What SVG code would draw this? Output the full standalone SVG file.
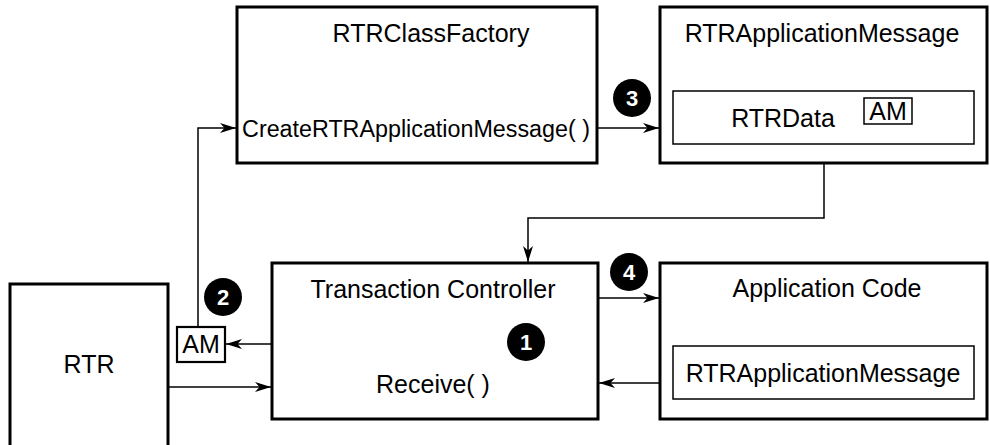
<svg xmlns="http://www.w3.org/2000/svg" width="990" height="445" viewBox="0 0 990 445">
  <style>
    .box { fill: #fff; stroke: #000; stroke-width: 3; }
    .inner { fill: #fff; stroke: #000; stroke-width: 1.5; }
    .txt { font-family: "Liberation Sans", Arial, sans-serif; font-size: 25px; fill: #000; text-anchor: middle; }
    .small { font-size: 23.3px; }
    .num { font-family: "Liberation Sans", Arial, sans-serif; font-size: 22px; font-weight: bold; fill: #fff; text-anchor: middle; }
    .conn { fill: none; stroke: #000; stroke-width: 1.5; }
  </style>
  <defs>
    <marker id="arrow" markerUnits="userSpaceOnUse" markerWidth="17" markerHeight="11" refX="16" refY="5.5" orient="auto">
      <path d="M0,0.5 L16,5.5 L0,10.5 L4.5,5.5 z" fill="#000"/>
    </marker>
  </defs>

  <g id="connectors">
    <path class="conn" d="M198,327 V128 H236" marker-end="url(#arrow)"/>
    <path class="conn" d="M272,344 H226" marker-end="url(#arrow)"/>
    <path class="conn" d="M168,387 H271" marker-end="url(#arrow)"/>
    <path class="conn" d="M597,128 H659" marker-end="url(#arrow)"/>
    <path class="conn" d="M824,163 V218 H528 V262" marker-end="url(#arrow)"/>
    <path class="conn" d="M598,298 H659" marker-end="url(#arrow)"/>
    <path class="conn" d="M660,383 H599" marker-end="url(#arrow)"/>
  </g>

  <g id="rtr-class-factory">
    <rect class="box" x="237" y="7" width="360" height="156"/>
    <text class="txt" x="431" y="42">RTRClassFactory</text>
    <text class="txt small" x="416" y="137">CreateRTRApplicationMessage( )</text>
  </g>

  <g id="rtr-application-message">
    <rect class="box" x="660" y="7" width="327" height="156"/>
    <text class="txt" x="822" y="42">RTRApplicationMessage</text>
    <rect class="inner" x="673" y="91" width="301" height="53"/>
    <text class="txt" x="783" y="127">RTRData</text>
    <rect class="inner" x="864" y="98" width="48" height="26"/>
    <text class="txt" x="888" y="120">AM</text>
  </g>

  <g id="rtr">
    <path class="box" d="M10,450 V284 H168 V450"/>
    <text class="txt" x="89" y="373">RTR</text>
  </g>

  <g id="am-left">
    <rect class="box" style="stroke-width:2.2" x="177" y="327" width="48" height="35"/>
    <text class="txt" x="201" y="353">AM</text>
  </g>

  <g id="transaction-controller">
    <rect class="box" x="272" y="263" width="326" height="156"/>
    <text class="txt" x="433" y="298">Transaction Controller</text>
    <text class="txt" x="433" y="393">Receive( )</text>
  </g>

  <g id="application-code">
    <rect class="box" x="660" y="263" width="327" height="156"/>
    <text class="txt" x="827" y="297">Application Code</text>
    <rect class="inner" x="673" y="346" width="301" height="53"/>
    <text class="txt" x="823" y="382">RTRApplicationMessage</text>
  </g>

  <g id="step-1">
    <circle cx="526" cy="342" r="19" fill="#000"/>
    <text class="num" x="526" y="350">1</text>
  </g>
  <g id="step-2">
    <circle cx="223" cy="297" r="19" fill="#000"/>
    <text class="num" x="223" y="305">2</text>
  </g>
  <g id="step-3">
    <circle cx="632" cy="98" r="19" fill="#000"/>
    <text class="num" x="632" y="106">3</text>
  </g>
  <g id="step-4">
    <circle cx="629" cy="272" r="19" fill="#000"/>
    <text class="num" x="629" y="280">4</text>
  </g>
</svg>
